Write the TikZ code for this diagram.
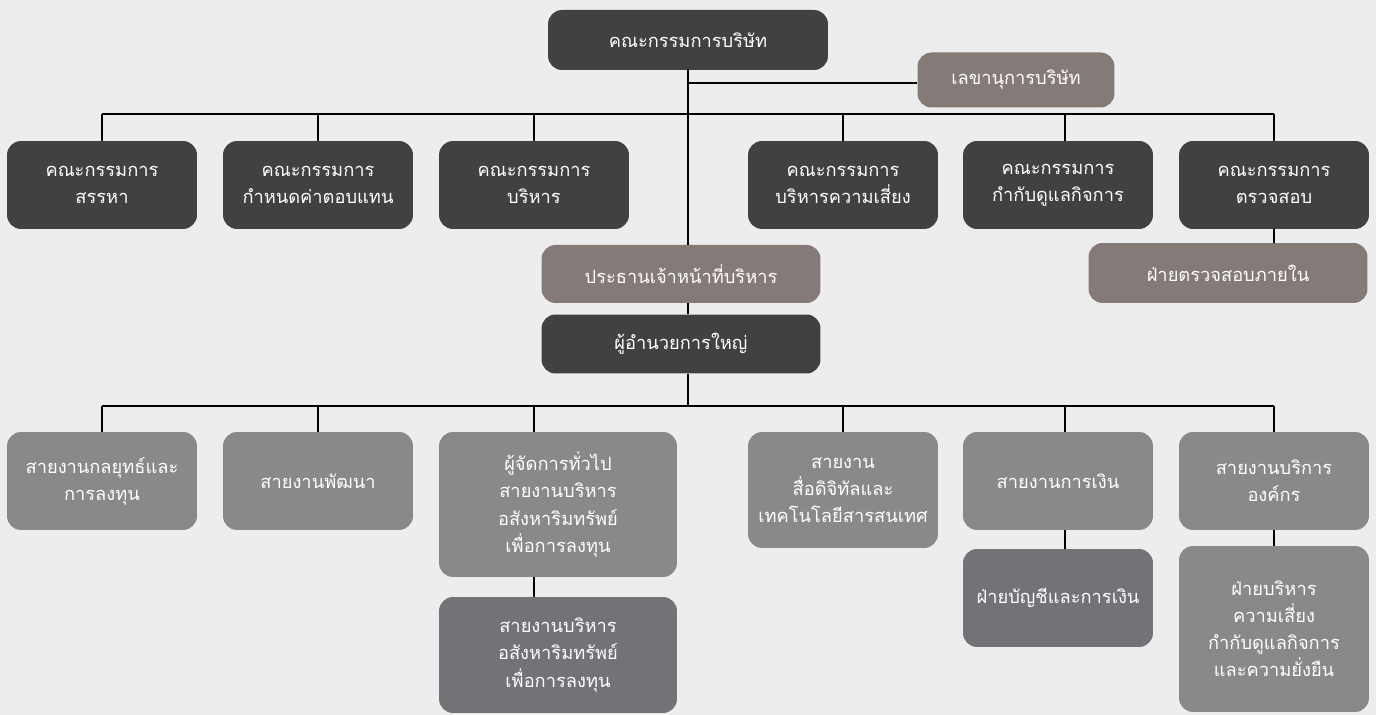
\documentclass[tikz,border=0pt]{standalone}
\usepackage{fontspec}
\newfontfamily\thaifont[Script=Thai]{Loma}
\usetikzlibrary{positioning}
\definecolor{bgcol}{HTML}{EDEDED}
\definecolor{darkbox}{HTML}{414143}
\definecolor{taupebox}{HTML}{847A78}
\definecolor{greybox}{HTML}{88898A}
\definecolor{subbox}{HTML}{747277}
\tikzstyle{unit} = [
    rectangle,
    rounded corners=0.28cm,
    inner sep=0pt,
    align=center,
    text=white,
    font=\thaifont\fontsize{10.4}{15.4}\selectfont
]
\tikzstyle{board} = [unit, fill=darkbox, minimum width=5.6cm, minimum height=1.2cm]
\tikzstyle{committee} = [unit, fill=darkbox, minimum width=3.8cm, minimum height=1.76cm]
\tikzstyle{officer} = [unit, fill=taupebox, minimum height=1.16cm]
\tikzstyle{division} = [unit, fill=greybox, minimum width=3.8cm]
\tikzstyle{subunit} = [unit, fill=subbox, minimum width=3.8cm]
\tikzstyle{line} = [draw=black, line width=0.6pt]

\begin{document}
\begin{tikzpicture}[x=0.02cm, y=-0.02cm]

\fill [bgcol] (0,0) rectangle (1376,715);
\useasboundingbox (0,0) rectangle (1376,715);

% board level
\node (board) [board] at (688,40) {คณะกรรมการบริษัท};
\node (secretary) [officer, minimum width=3.94cm, minimum height=1.1cm] at (1016,80) {เลขานุการบริษัท};

% committees
\node (nomination) [committee] at (102,185) {คณะกรรมการ\\สรรหา};
\node (remuneration) [committee] at (318,185) {คณะกรรมการ\\กำหนดค่าตอบแทน};
\node (executive) [committee] at (534,185) {คณะกรรมการ\\บริหาร};
\node (risk) [committee] at (843,185) {คณะกรรมการ\\บริหารความเสี่ยง};
\node (governance) [committee] at (1058,185) {คณะกรรมการ\\กำกับดูแลกิจการ};
\node (audit) [committee] at (1274,185) {คณะกรรมการ\\ตรวจสอบ};
\node (internalaudit) [officer, minimum width=5.58cm, minimum height=1.2cm] at (1228,273) {ฝ่ายตรวจสอบภายใน};

% management
\node (ceo) [officer, minimum width=5.58cm] at (681,274) {ประธานเจ้าหน้าที่บริหาร};
\node (president) [board, fill=darkbox, minimum width=5.58cm, minimum height=1.18cm] at (681,344) {ผู้อำนวยการใหญ่};

% business units
\node (strategy) [division, minimum height=1.96cm] at (102,481) {สายงานกลยุทธ์และ\\การลงทุน};
\node (development) [division, minimum height=1.96cm] at (318,481) {สายงานพัฒนา};
\node (property) [division, minimum width=4.76cm, minimum height=2.9cm] at (558,504.5) {ผู้จัดการทั่วไป\\สายงานบริหาร\\อสังหาริมทรัพย์\\เพื่อการลงทุน};
\node (propertyunit) [subunit, minimum width=4.76cm, minimum height=2.32cm] at (558,655) {สายงานบริหาร\\อสังหาริมทรัพย์\\เพื่อการลงทุน};
\node (digital) [division, minimum height=2.32cm] at (843,490) {สายงาน\\สื่อดิจิทัลและ\\เทคโนโลยีสารสนเทศ};
\node (finance) [division, minimum height=1.96cm] at (1058,481) {สายงานการเงิน};
\node (accounting) [subunit, minimum height=1.96cm] at (1058,598) {ฝ่ายบัญชีและการเงิน};
\node (corporate) [division, minimum height=1.96cm] at (1274,481) {สายงานบริการ\\องค์กร};
\node (riskunit) [division, minimum height=3.32cm] at (1274,629) {ฝ่ายบริหาร\\ความเสี่ยง\\กำกับดูแลกิจการ\\และความยั่งยืน};

% junctions
\coordinate (trunk) at (688,114);
\coordinate (secjoin) at (688,83);
\coordinate (busL) at (102,114);
\coordinate (busR) at (1274,114);
\coordinate (lowtrunk) at (688,406);
\coordinate (lowL) at (102,406);
\coordinate (lowR) at (1274,406);
\coordinate (propdrop) at (534,406);
\coordinate (findrop) at (1065,406);
\coordinate (govdrop) at (1065,114);

% connectors
\draw [line] (board.south -| trunk) -- (ceo.north -| trunk);
\draw [line] (secjoin) -- (secjoin -| secretary.west);
\draw [line] (busL) -- (busR);
\draw [line] (busL) -- (nomination.north);
\draw [line] (trunk -| remuneration.north) -- (remuneration.north);
\draw [line] (trunk -| executive.north) -- (executive.north);
\draw [line] (trunk -| risk.north) -- (risk.north);
\draw [line] (govdrop) -- (govdrop |- governance.north);
\draw [line] (busR) -- (audit.north);
\draw [line] (audit.south) -- (audit.south |- internalaudit.north);
\draw [line] (ceo.south -| trunk) -- (president.north -| trunk);
\draw [line] (president.south -| trunk) -- (lowtrunk);
\draw [line] (lowL) -- (lowR);
\draw [line] (lowL) -- (strategy.north);
\draw [line] (lowtrunk -| development.north) -- (development.north);
\draw [line] (propdrop) -- (propdrop |- property.north);
\draw [line] (property.south -| propdrop) -- (propertyunit.north -| propdrop);
\draw [line] (lowtrunk -| digital.north) -- (digital.north);
\draw [line] (findrop) -- (findrop |- finance.north);
\draw [line] (finance.south -| findrop) -- (accounting.north -| findrop);
\draw [line, line width=1.3pt] (lowR) -- (corporate.north);
\draw [line, line width=1.3pt] (corporate.south) -- (riskunit.north);

\end{tikzpicture}
\end{document}
